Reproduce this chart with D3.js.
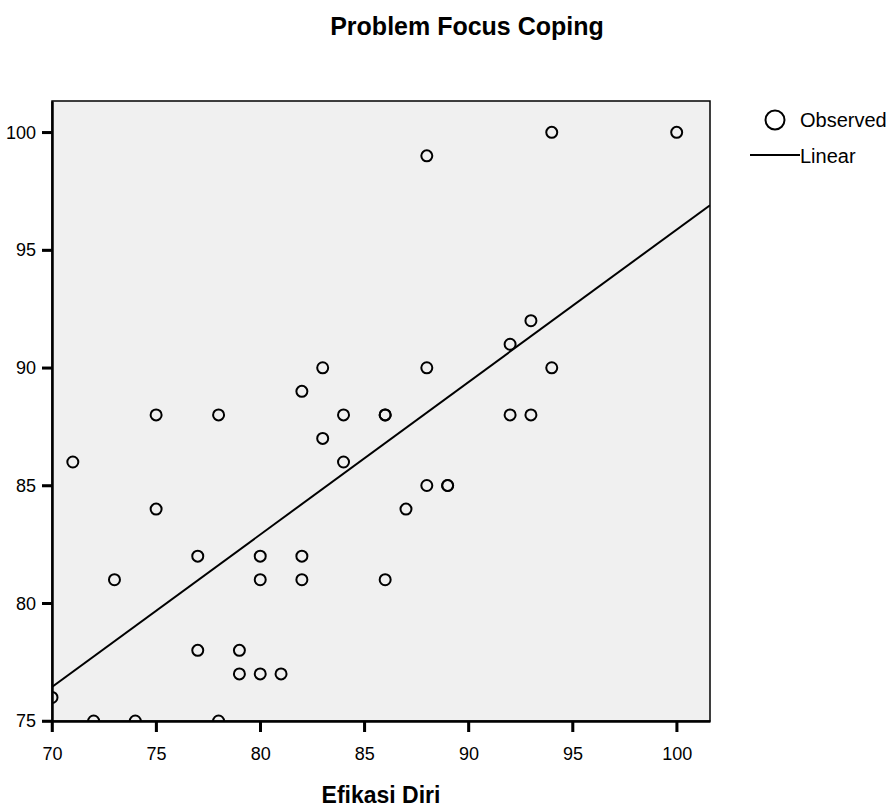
<!DOCTYPE html>
<html>
<head>
<meta charset="utf-8">
<script src="https://cdn.jsdelivr.net/npm/d3@7"></script>
<style>
body { margin: 0; background: #fff; }
text { font-family: Arial, "Liberation Sans", sans-serif; }
</style>
</head>
<body>
<script>
// Efikasi Diri (x) vs Problem Focus Coping (y)
var efikasi = [94,100,88,93,92,83,88,94,82,75,78,84,86,86,92,93,83,71,84,88,
               89,89,75,87,77,80,82,73,80,82,86,77,79,79,80,81,70,72,74,78];
var coping  = [100,100,99,92,91,90,90,90,89,88,88,88,88,88,88,88,87,86,86,85,
               85,85,84,84,82,82,82,81,81,81,81,78,78,77,77,77,76,75,75,75];
var xTicks = [70,75,80,85,90,95,100];
var yTicks = [75,80,85,90,95,100];

var width = 891, height = 808;
var svg = d3.select('body').append('svg')
    .attr('width', width)
    .attr('height', height);

var pLeft = 52, pRight = 710, pTop = 101, pBottom = 721;

var x = d3.scaleLinear().domain([70, 101.6]).range([pLeft, pRight]);
var y = d3.scaleLinear().domain([75, 101.33]).range([pBottom, pTop]);

// plot background
svg.append('rect')
    .attr('x', pLeft).attr('y', pTop)
    .attr('width', pRight - pLeft).attr('height', pBottom - pTop)
    .style('fill', '#f0f0f0')
    .style('stroke', 'black')
    .style('stroke-width', 1.5);

svg.append('clipPath').attr('id', 'clip')
  .append('rect')
    .attr('x', pLeft).attr('y', pTop)
    .attr('width', pRight - pLeft).attr('height', pBottom - pTop);

var plot = svg.append('g').attr('clip-path', 'url(#clip)');

// least squares line
var n = efikasi.length;
var mx = d3.mean(efikasi), my = d3.mean(coping);
var sxy = 0, sxx = 0;
for (var i = 0; i < n; i++) {
    sxy += (efikasi[i] - mx) * (coping[i] - my);
    sxx += (efikasi[i] - mx) * (efikasi[i] - mx);
}
var slope = sxy / sxx;
var intercept = my - slope * mx;
var xd = x.domain();

plot.append('line')
    .attr('x1', x(xd[0])).attr('y1', y(intercept + slope * xd[0]))
    .attr('x2', x(xd[1])).attr('y2', y(intercept + slope * xd[1]))
    .style('stroke', 'black')
    .style('stroke-width', 2);

// observed points
plot.selectAll('circle')
    .data(d3.range(n))
    .enter()
    .append('circle')
    .attr('cx', function(i){ return x(efikasi[i]); })
    .attr('cy', function(i){ return y(coping[i]); })
    .attr('r', 5.5)
    .style('fill', 'none')
    .style('stroke', 'black')
    .style('stroke-width', 2);

// axes
var xAxis = svg.append('g')
    .attr('transform', 'translate(0,' + pBottom + ')')
    .call(d3.axisBottom(x).tickValues(xTicks).tickSize(11).tickSizeOuter(0).tickPadding(15));
var yAxis = svg.append('g')
    .attr('transform', 'translate(' + pLeft + ',0)')
    .call(d3.axisLeft(y).tickValues(yTicks).tickSize(10).tickSizeOuter(0).tickPadding(6));

[xAxis, yAxis].forEach(function(a) {
    a.attr('font-size', 18).attr('font-family', 'Arial, "Liberation Sans", sans-serif');
    a.select('.domain').attr('stroke', 'black').attr('stroke-width', 2.5);
    a.selectAll('.tick line').attr('stroke', 'black').attr('stroke-width', 2.5);
    a.selectAll('.tick text').attr('fill', 'black');
});

// tick marks drawn again on top to be sure they show
svg.append('g').selectAll('line')
    .data(xTicks).enter().append('line')
    .attr('x1', function(d){ return x(d); }).attr('x2', function(d){ return x(d); })
    .attr('y1', pBottom).attr('y2', pBottom + 11)
    .attr('stroke', 'black').attr('stroke-width', 2.5);
svg.append('g').selectAll('line')
    .data(yTicks).enter().append('line')
    .attr('y1', function(d){ return y(d); }).attr('y2', function(d){ return y(d); })
    .attr('x1', pLeft - 10).attr('x2', pLeft)
    .attr('stroke', 'black').attr('stroke-width', 2.5);

// title and axis label
svg.append('text')
    .attr('x', 467).attr('y', 35)
    .attr('text-anchor', 'middle')
    .attr('font-size', '25px')
    .attr('font-weight', 'bold')
    .text('Problem Focus Coping');

svg.append('text')
    .attr('x', 381).attr('y', 803)
    .attr('text-anchor', 'middle')
    .attr('font-size', '23px')
    .attr('font-weight', 'bold')
    .text('Efikasi Diri');

// legend
svg.append('circle')
    .attr('cx', 775).attr('cy', 120).attr('r', 9.5)
    .style('fill', 'none').style('stroke', 'black').style('stroke-width', 2);
svg.append('text')
    .attr('x', 800).attr('y', 127)
    .attr('font-size', '20px')
    .text('Observed');
svg.append('line')
    .attr('x1', 750).attr('y1', 155).attr('x2', 800).attr('y2', 155)
    .style('stroke', 'black').style('stroke-width', 2);
svg.append('text')
    .attr('x', 800).attr('y', 163)
    .attr('font-size', '20px')
    .text('Linear');
</script>
</body>
</html>
